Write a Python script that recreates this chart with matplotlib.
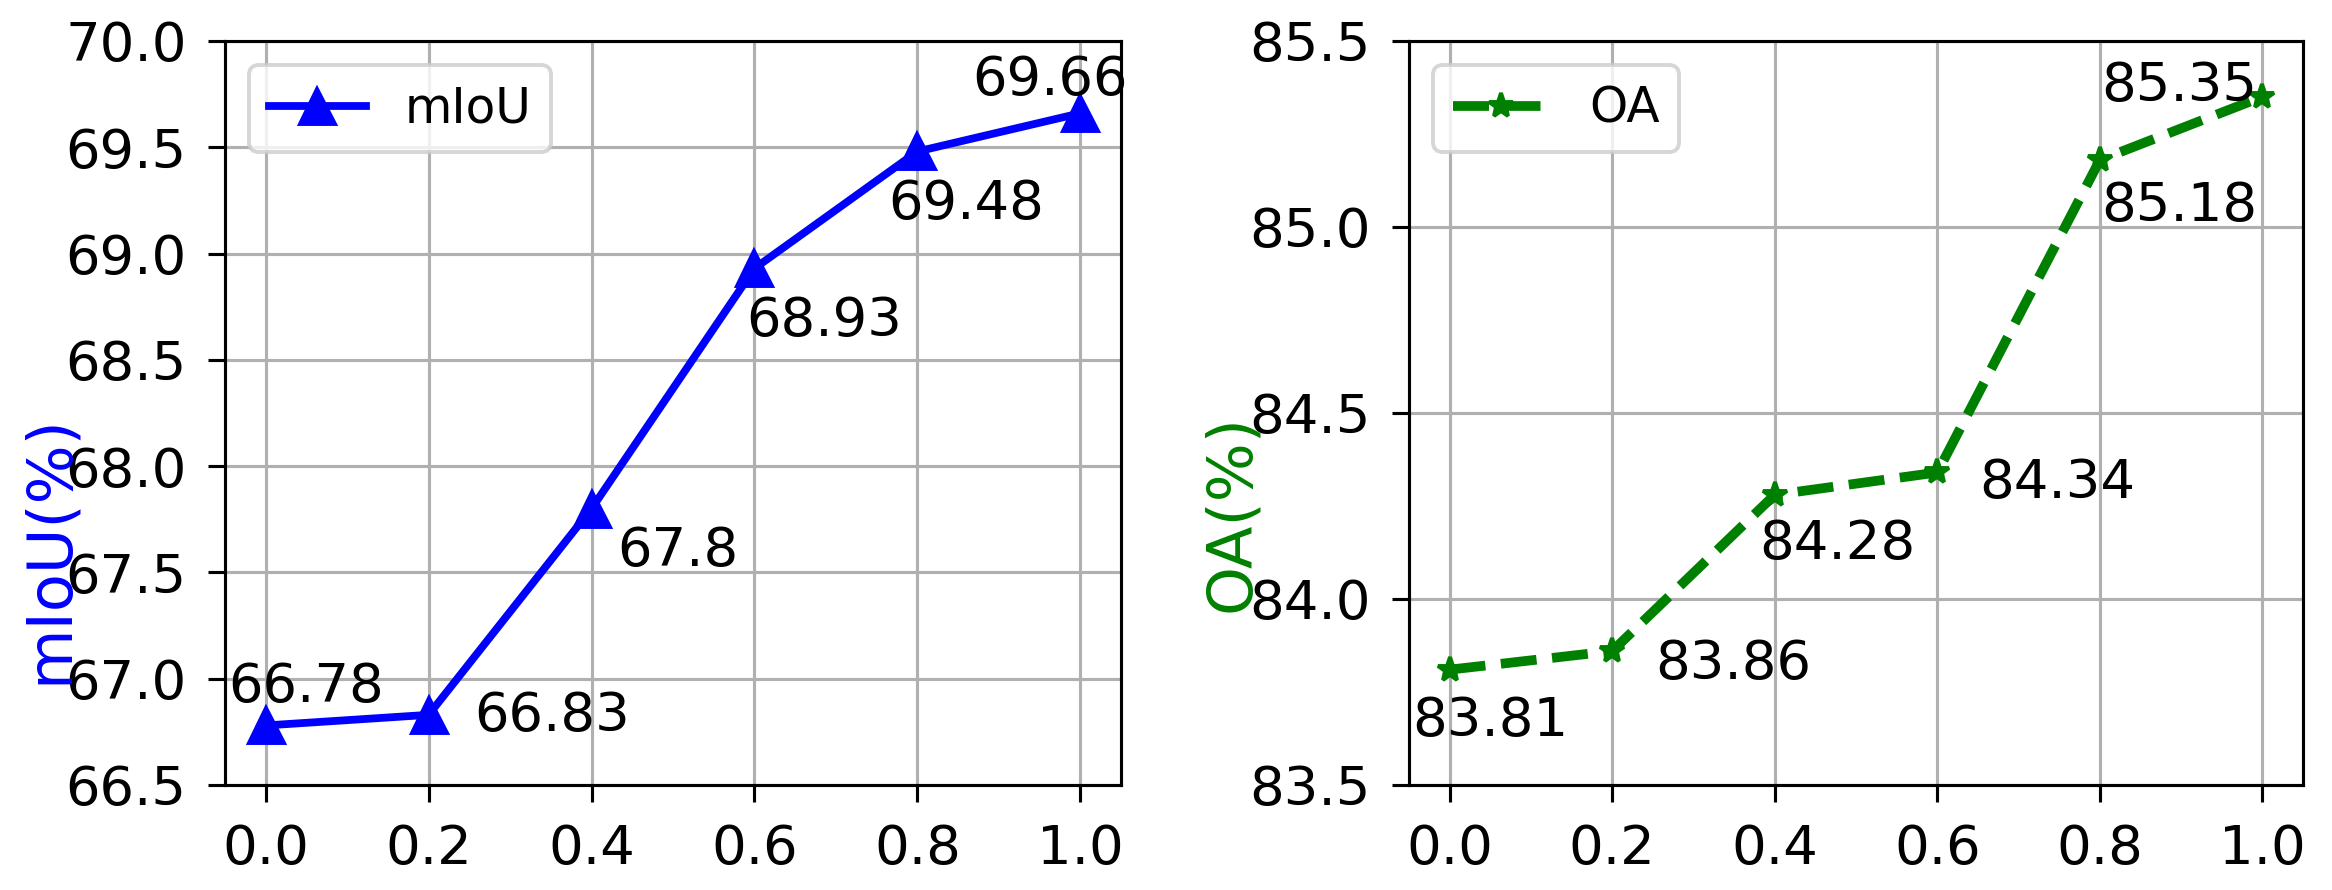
import matplotlib
matplotlib.use("Agg")
import matplotlib.pyplot as plt

# ---- data ----
ratios = [0.0, 0.2, 0.4, 0.6, 0.8, 1.0]
miou = [66.78, 66.83, 67.8, 68.93, 69.48, 69.66]
oa = [83.81, 83.86, 84.28, 84.34, 85.18, 85.35]
miou_labels = ["66.78", "66.83", "67.8", "68.93", "69.48", "69.66"]
oa_labels = ["83.81", "83.86", "84.28", "84.34", "85.18", "85.35"]
xticks = [0.0, 0.2, 0.4, 0.6, 0.8, 1.0]
miou_yticks = [66.5, 67.0, 67.5, 68.0, 68.5, 69.0, 69.5, 70.0]
oa_yticks = [83.5, 84.0, 84.5, 85.0, 85.5]

# annotation offsets (pixels) for the value labels
miou_offsets = [(-38, 23), (46, -16), (26, -57), (-8, -68), (-29, -68), (-108, 18)]
oa_offsets = [(-37, -66), (43, -28), (-16, -64), (42, -26), (1, -61), (-161, -4)]

DPI = 280
fig = plt.figure(figsize=(2332 / DPI, 890 / DPI), dpi=DPI)
ax1 = fig.add_axes([0.0965, 0.118, 0.3842, 0.836])
ax2 = fig.add_axes([0.6042, 0.118, 0.3834, 0.836])


def style(ax, yticks):
    ax.set_xticks(xticks)
    ax.set_xticklabels([f"{t:.1f}" for t in xticks])
    ax.set_yticks(yticks)
    ax.set_yticklabels([f"{t:.1f}" for t in yticks])
    ax.set_ylim(yticks[0], yticks[-1])
    ax.set_xlim(-0.05, 1.05)
    ax.tick_params(axis="both", labelsize=14, length=4.4, width=0.8, pad=5.5)
    ax.grid(True, color="#b0b0b0", linewidth=0.8)
    ax.set_axisbelow(True)
    for s in ax.spines.values():
        s.set_linewidth(0.8)


ax1.plot(ratios, miou, color="blue", marker="^", markersize=9, linewidth=2, label="mIoU")
for x, y, t, (dx, dy) in zip(ratios, miou, miou_labels, miou_offsets):
    ax1.annotate(t, (x, y), xytext=(dx, dy), textcoords="offset pixels",
                 ha="left", va="baseline", fontsize=14)
style(ax1, miou_yticks)
ax1.set_ylabel("mIoU(%)", color="blue", fontsize=16)
ax1.yaxis.set_label_coords(-0.162, 0.317)
ax1.legend(loc="upper left", fontsize=12.5)

ax2.plot(ratios, oa, color="green", marker="*", markersize=6.5, linewidth=2.5,
         linestyle="--", label="OA")
for x, y, t, (dx, dy) in zip(ratios, oa, oa_labels, oa_offsets):
    ax2.annotate(t, (x, y), xytext=(dx, dy), textcoords="offset pixels",
                 ha="left", va="baseline", fontsize=14)
style(ax2, oa_yticks)
ax2.set_ylabel("OA(%)", color="green", fontsize=16)
ax2.yaxis.set_label_coords(-0.164, 0.365)
ax2.legend(loc="upper left", fontsize=12.5)

fig.savefig("out.png", dpi=DPI)
